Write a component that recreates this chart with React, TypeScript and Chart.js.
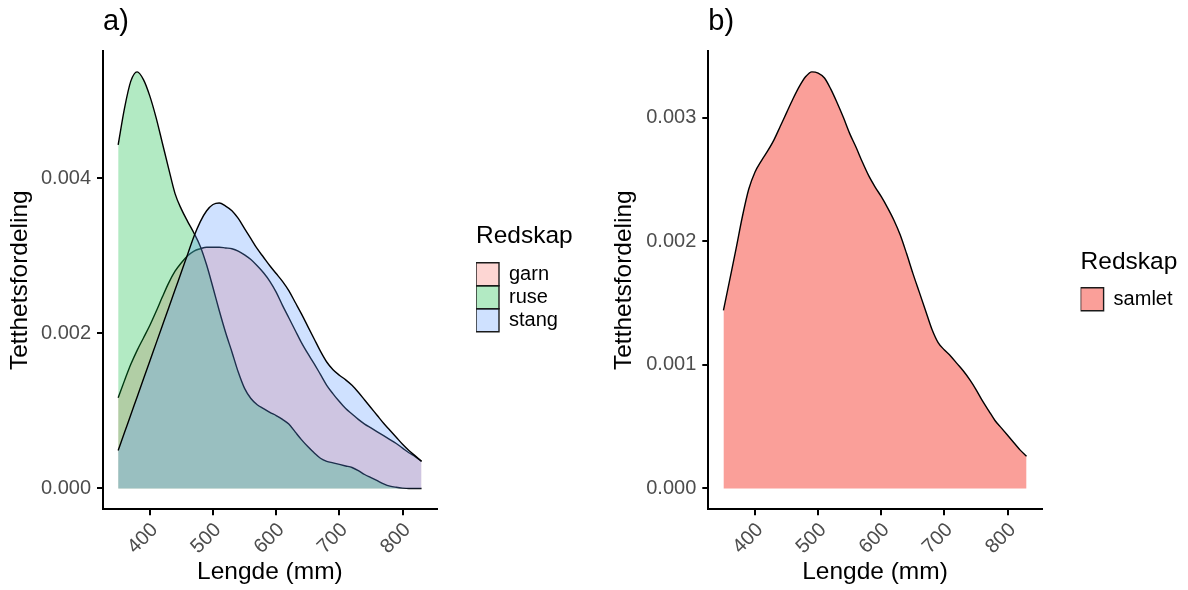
import React, { useEffect, useRef } from 'react';
import { Chart, registerables } from 'chart.js';

Chart.register(...registerables);

// ---------- data ----------
const LENGDE = [
  350, 360, 370, 380, 390, 400, 410, 420, 430, 440, 450, 460, 470, 480, 490, 500, 510,
  520, 530, 540, 550, 560, 570, 580, 590, 600, 610, 620, 630, 640, 650, 660, 670, 680,
  690, 700, 710, 720, 730, 740, 750, 760, 770, 780, 790, 800, 810, 820, 830,
];

const GARN = [
  0.00117, 0.00139, 0.0016, 0.00178, 0.00194, 0.0021, 0.00228, 0.00247, 0.00265, 0.0028,
  0.00291, 0.003, 0.00306, 0.00309, 0.00311, 0.00311, 0.00311, 0.0031, 0.00309, 0.00306,
  0.00301, 0.00295, 0.00287, 0.00278, 0.00267, 0.00253, 0.00236, 0.0022, 0.00204, 0.00188,
  0.00174, 0.00161, 0.00147, 0.00133, 0.00122, 0.00112, 0.00103, 0.00096, 0.00089, 0.00083,
  0.00078, 0.00073, 0.00068, 0.00063, 0.00058, 0.00052, 0.00046, 0.00041, 0.00035,
];

const RUSE = [
  0.00443, 0.0049, 0.00525, 0.00537, 0.00527, 0.00506, 0.00478, 0.00445, 0.00412, 0.0038,
  0.0036, 0.00344, 0.00329, 0.00312, 0.00288, 0.00259, 0.00229, 0.00201, 0.00176, 0.0015,
  0.00129, 0.00116, 0.00108, 0.00103, 0.00098, 0.00094, 0.00089, 0.00083, 0.00073, 0.00063,
  0.00054, 0.00046, 0.00039, 0.00035, 0.00033, 0.00031, 0.00029, 0.00027, 0.00023, 0.00018,
  0.00014, 0.0001, 0.00006, 0.00003, 0.000015, 0.000005, 0, 0, 0,
];

const STANG = [
  0.00049, 0.00072, 0.00095, 0.00118, 0.00141, 0.00164, 0.00187, 0.0021, 0.00233, 0.00256,
  0.00279, 0.00302, 0.00325, 0.00344, 0.00358, 0.00366, 0.00368, 0.00364, 0.00358, 0.00348,
  0.00335, 0.00322, 0.00309, 0.00298, 0.00287, 0.00277, 0.00267, 0.00255, 0.0024, 0.00225,
  0.00209, 0.00193, 0.00177, 0.00163, 0.00153, 0.00146, 0.0014, 0.00133, 0.00124, 0.00114,
  0.00104, 0.00094, 0.00084, 0.00075, 0.00066, 0.00057, 0.00049, 0.00042, 0.00035,
];

const SAMLET = [
  0.00144, 0.00169, 0.00194, 0.0022, 0.00242, 0.00256, 0.00265, 0.00273, 0.00282, 0.00293,
  0.00304, 0.00315, 0.00325, 0.00333, 0.00337, 0.00336, 0.00332, 0.00323, 0.00312, 0.003,
  0.00287, 0.00276, 0.00264, 0.00253, 0.00244, 0.00236, 0.00227, 0.00217, 0.00205, 0.0019,
  0.00174, 0.00159, 0.00144, 0.00129, 0.00118, 0.00112, 0.00107, 0.00101, 0.00095, 0.00088,
  0.0008, 0.00071, 0.00063, 0.00055, 0.00049, 0.00043, 0.00037, 0.00031, 0.00026,
];

const X_TICKS = [400, 500, 600, 700, 800];
const Y_TICKS_A = [0, 0.002, 0.004];
const Y_TICKS_B = [0, 0.001, 0.002, 0.003];

const X_TITLE = 'Lengde (mm)';
const Y_TITLE = 'Tetthetsfordeling';
const LEGEND_TITLE = 'Redskap';

// ---------- styling ----------
const FONT = "'Liberation Sans', Arial, Helvetica, sans-serif";
const H = 590;
const CHART_TOP = 51;
const CHART_BOTTOM = 509.3;
const BOX = 23;
const LABEL_SIZE = 20;
const TITLE_SIZE = 24.5;
const TAG_SIZE = 29;

function pts(ys: number[]) {
  return LENGDE.map((x, i) => ({ x, y: ys[i] }));
}

function expanded(min: number, max: number) {
  const pad = (max - min) * 0.05;
  return { min: min - pad, max: max + pad };
}

function measureMax(texts: string[]) {
  const c = document.createElement('canvas').getContext('2d')!;
  c.font = `${LABEL_SIZE}px ${FONT}`;
  return Math.max(...texts.map((t) => c.measureText(t).width));
}

// keep the legend title from being clipped by the legend box width
const legendClipFix = {
  id: 'legendClipFix',
  afterLayout(chart: any) {
    const l = chart.legend;
    if (l) {
      l.width = Math.max(l.width, 160);
      l.right = l.left + l.width;
    }
  },
};

type Spec = {
  tag: string;
  datasets: any[];
  yTicks: number[];
  yMax: number;
  yAxisWidth: number;
  yTitlePadTop: number;
  chartRight: number;
  legendGap: number;
  legendTitleTop: number;
  legendTitleBottom: number;
  canvasWidth: number;
};

function buildConfig(p: Spec): any {
  const labels = p.datasets.map((d) => d.label as string);
  const legendW = BOX + LABEL_SIZE / 2 + measureMax(labels) + 10;
  const padRight = Math.max(0, p.canvasWidth - p.chartRight - p.legendGap - legendW);
  const xr = expanded(Math.min(...LENGDE), Math.max(...LENGDE));
  const yr = expanded(0, p.yMax);
  const tagLine = TAG_SIZE * 1.2;
  const tagPadTop = 31.7 - 0.3465 * TAG_SIZE - tagLine / 2;
  const tickGrid = {
    display: true,
    drawOnChartArea: false,
    drawTicks: true,
    tickLength: 6,
    tickColor: '#000',
    tickWidth: 2,
    lineWidth: 2,
    color: '#000',
  };
  const border = { display: true, color: '#000', width: 2 };
  return {
    type: 'line',
    data: { datasets: p.datasets },
    plugins: [legendClipFix],
    options: {
      responsive: false,
      animation: false,
      devicePixelRatio: 1,
      layout: { padding: { left: 0, top: 0, bottom: 0, right: padRight } },
      elements: { point: { radius: 0, hoverRadius: 0 } },
      events: [],
      plugins: {
        tooltip: { enabled: false },
        title: {
          display: true,
          text: p.tag,
          align: 'start',
          fullSize: false,
          color: '#000',
          font: { family: FONT, size: TAG_SIZE, weight: 'normal' },
          padding: { top: tagPadTop, bottom: CHART_TOP - tagLine - tagPadTop },
        },
        legend: {
          display: true,
          position: 'right',
          align: 'start',
          fullSize: false,
          maxWidth: 400,
          title: {
            display: true,
            text: LEGEND_TITLE,
            position: 'start',
            color: '#000',
            font: { family: FONT, size: TITLE_SIZE, weight: 'normal' },
            padding: { top: p.legendTitleTop, bottom: p.legendTitleBottom },
          },
          labels: {
            boxWidth: BOX,
            boxHeight: BOX,
            padding: 0,
            color: '#000',
            font: { family: FONT, size: LABEL_SIZE },
            generateLabels: (chart: any) =>
              (Chart.defaults.plugins.legend.labels as any)
                .generateLabels(chart)
                .map((it: any) => ({ ...it, strokeStyle: '#1a1a1a', lineWidth: 1.4 })),
            sort: (a: any, b: any) => a.datasetIndex - b.datasetIndex,
          },
        },
      },
      scales: {
        x: {
          type: 'linear',
          min: xr.min,
          max: xr.max,
          bounds: 'data',
          afterBuildTicks: (s: any) => {
            s.ticks = X_TICKS.map((v) => ({ value: v }));
          },
          ticks: {
            autoSkip: false,
            minRotation: 45,
            maxRotation: 45,
            padding: 3,
            labelOffset: 5,
            color: '#4D4D4D',
            font: { family: FONT, size: LABEL_SIZE },
            callback: (v: any) => String(v),
          },
          grid: tickGrid,
          border,
          title: {
            display: true,
            text: X_TITLE,
            color: '#000',
            font: { family: FONT, size: TITLE_SIZE },
            padding: { top: 0, bottom: 3.1 },
          },
          afterFit: (s: any) => {
            s.height = H - CHART_BOTTOM;
          },
        },
        y: {
          type: 'linear',
          position: 'left',
          min: yr.min,
          max: yr.max,
          bounds: 'data',
          afterBuildTicks: (s: any) => {
            s.ticks = p.yTicks.map((v) => ({ value: v }));
          },
          ticks: {
            padding: 6,
            color: '#4D4D4D',
            font: { family: FONT, size: LABEL_SIZE },
            callback: (v: any) => Number(v).toFixed(3),
          },
          grid: tickGrid,
          border,
          title: {
            display: true,
            text: Y_TITLE,
            color: '#000',
            font: { family: FONT, size: TITLE_SIZE },
            padding: { top: p.yTitlePadTop, bottom: 0 },
          },
          afterFit: (s: any) => {
            s.width = p.yAxisWidth;
          },
        },
        gap: {
          type: 'linear',
          position: 'right',
          display: true,
          grid: { display: false, drawTicks: false },
          border: { display: false },
          ticks: { display: false },
          title: { display: false },
          afterFit: (s: any) => {
            s.width = p.legendGap;
          },
        },
      },
    },
  };
}

function area(label: string, ys: number[], color: string, order: number) {
  return {
    label,
    data: pts(ys),
    backgroundColor: color,
    borderColor: '#000',
    borderWidth: 1.4,
    fill: 'origin',
    order,
    pointRadius: 0,
    cubicInterpolationMode: 'monotone',
    xAxisID: 'x',
    yAxisID: 'y',
  };
}

const SPEC_A: Spec = {
  tag: 'a)',
  datasets: [
    area('garn', GARN, 'rgba(248,118,109,0.3)', 3),
    area('ruse', RUSE, 'rgba(0,186,56,0.3)', 2),
    area('stang', STANG, 'rgba(97,156,255,0.3)', 1),
  ],
  yTicks: Y_TICKS_A,
  yMax: Math.max(...GARN, ...RUSE, ...STANG),
  yAxisWidth: 103,
  yTitlePadTop: 6.0,
  chartRight: 436.7,
  legendGap: 39.3,
  legendTitleTop: 173.25,
  legendTitleBottom: 9.05,
  canvasWidth: 600,
};

const SPEC_B: Spec = {
  tag: 'b)',
  datasets: [area('samlet', SAMLET, 'rgba(248,118,109,0.7)', 1)],
  yTicks: Y_TICKS_B,
  yMax: Math.max(...SAMLET),
  yAxisWidth: 108.3,
  yTitlePadTop: 9.3,
  chartRight: 441.7,
  legendGap: 38.9,
  legendTitleTop: 198.95,
  legendTitleBottom: 8.45,
  canvasWidth: 588,
};

function Panel({ spec, left }: { spec: Spec; left: number }) {
  const ref = useRef<HTMLCanvasElement>(null);
  useEffect(() => {
    const chart = new Chart(ref.current as HTMLCanvasElement, buildConfig(spec));
    return () => chart.destroy();
  }, [spec]);
  return (
    <canvas
      ref={ref}
      width={spec.canvasWidth}
      height={H}
      style={{ position: 'absolute', left, top: 0, width: spec.canvasWidth, height: H }}
    />
  );
}

export default function App() {
  return (
    <div
      style={{
        position: 'fixed',
        left: 0,
        top: 0,
        width: 1188,
        height: H,
        background: '#fff',
        overflow: 'hidden',
      }}
    >
      <Panel spec={SPEC_A} left={0} />
      <Panel spec={SPEC_B} left={600} />
    </div>
  );
}
